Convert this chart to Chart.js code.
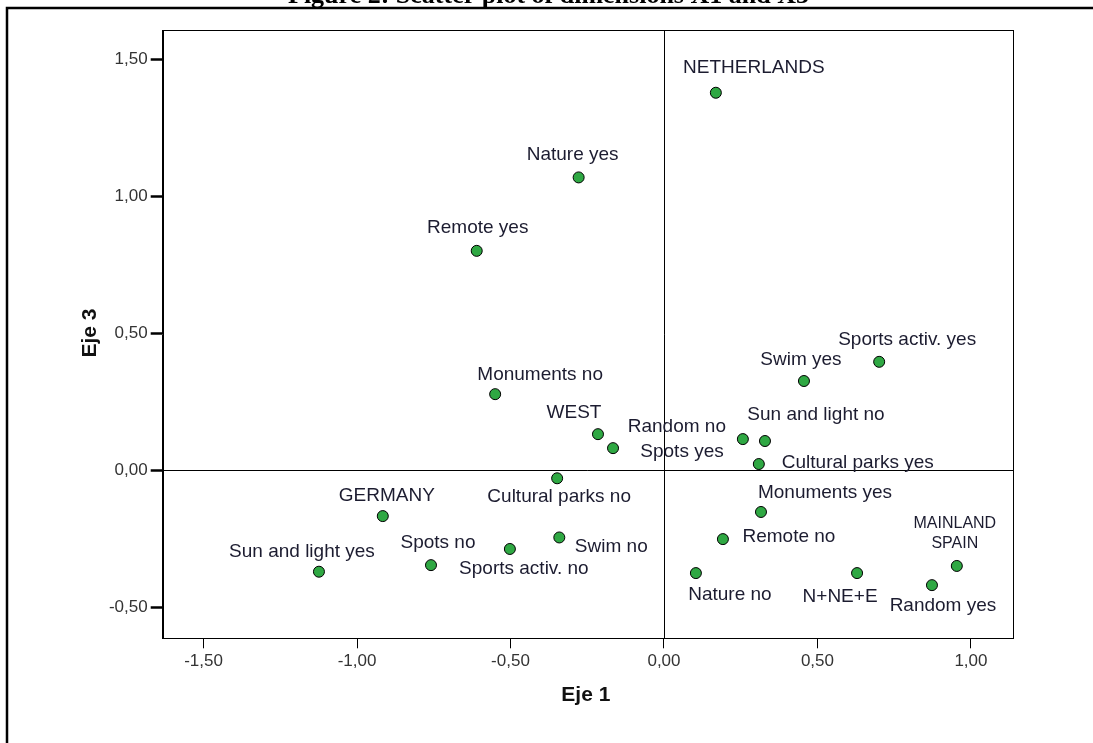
<!DOCTYPE html>
<html>
<head>
<meta charset="utf-8">
<script src="https://cdn.jsdelivr.net/npm/chart.js@4/dist/chart.umd.min.js"></script>
<style>
  html, body { margin: 0; padding: 0; background: #fff; }
  #wrap { position: relative; width: 1093px; height: 743px; overflow: hidden; }
  canvas { display: block; }
</style>
</head>
<body>
<div id="wrap"><canvas id="c"></canvas></div>
<script>
// ---- data ----
const categories = [
  'NETHERLANDS', 'Nature yes', 'Remote yes', 'Monuments no', 'WEST', 'Spots yes',
  'Random no', 'Sun and light no', 'Cultural parks yes', 'Swim yes', 'Sports activ. yes',
  'Cultural parks no', 'GERMANY', 'Monuments yes', 'Sun and light yes', 'Spots no',
  'Sports activ. no', 'Swim no', 'Remote no', 'Nature no', 'N+NE+E',
  ['MAINLAND', 'SPAIN'], 'Random yes'
];
const eje1 = [
  0.169, -0.278, -0.610, -0.550, -0.215, -0.166,
  0.257, 0.329, 0.309, 0.456, 0.701,
  -0.348, -0.916, 0.316, -1.124, -0.759,
  -0.502, -0.341, 0.192, 0.104, 0.629,
  0.954, 0.873
];
const eje3 = [
  1.377, 1.068, 0.800, 0.277, 0.131, 0.080,
  0.113, 0.106, 0.022, 0.325, 0.395,
  -0.030, -0.168, -0.153, -0.371, -0.347,
  -0.288, -0.246, -0.252, -0.376, -0.376,
  -0.350, -0.420
];
const xTickValues = [-1.5, -1.0, -0.5, 0.0, 0.5, 1.0];
const xTickLabels = ['-1,50', '-1,00', '-0,50', '0,00', '0,50', '1,00'];
const yTickValues = [-0.5, 0.0, 0.5, 1.0, 1.5];
const yTickLabels = ['-0,50', '0,00', '0,50', '1,00', '1,50'];
const xTitle = 'Eje 1';
const yTitle = 'Eje 3';
const figureTitle = 'Figure 2: Scatter plot of dimensions X1 and X3';

// ---- label placement (styling, pixel offsets from each point) ----
const labelStyle = [
  {dx: 38, dy: -25}, {dx: -6, dy: -23}, {dx: 1, dy: -23}, {dx: 45, dy: -19},
  {dx: -24, dy: -21}, {dx: 69, dy: 4}, {dx: -66, dy: -12}, {dx: 51, dy: -26},
  {dx: 99, dy: -1}, {dx: -3, dy: -21}, {dx: 28, dy: -22}, {dx: 2, dy: 18},
  {dx: 4, dy: -20}, {dx: 64, dy: -19}, {dx: -17, dy: -20}, {dx: 7, dy: -22},
  {dx: 14, dy: 20}, {dx: 52, dy: 9}, {dx: 66, dy: -2}, {dx: 34, dy: 22},
  {dx: -17, dy: 24}, {dx: -2, dy: -32, size: 16, lh: 20}, {dx: 11, dy: 21}
];

const FONT = "'Liberation Sans', Arial, Helvetica, sans-serif";
const points = eje1.map((x, i) => ({x: x, y: eje3[i]}));

const decorPlugin = {
  id: 'decor',
  beforeDatasetsDraw(chart) {
    const {ctx, chartArea: a, scales: {x, y}} = chart;
    ctx.save();
    ctx.strokeStyle = '#000';
    ctx.lineWidth = 1;
    const x0 = Math.round(x.getPixelForValue(0)) + 0.5;
    const y0 = Math.round(y.getPixelForValue(0)) + 0.5;
    ctx.beginPath();
    ctx.moveTo(x0, a.top); ctx.lineTo(x0, a.bottom);
    ctx.moveTo(a.left, y0); ctx.lineTo(a.right, y0);
    ctx.stroke();
    ctx.strokeRect(Math.round(a.left) + 0.5, Math.round(a.top) + 0.5,
                   Math.round(a.right - a.left), Math.round(a.bottom - a.top));
    ctx.restore();
  },
  afterDraw(chart) {
    const {ctx, chartArea: a} = chart;
    const meta = chart.getDatasetMeta(0);
    ctx.save();
    ctx.fillStyle = '#1c1c30';
    ctx.textAlign = 'center';
    ctx.textBaseline = 'middle';
    meta.data.forEach((el, i) => {
      const st = labelStyle[i];
      const size = st.size || 19;
      ctx.font = size + 'px ' + FONT;
      const lab = categories[i];
      if (Array.isArray(lab)) {
        const lh = st.lh || size * 1.2;
        const start = el.y + st.dy - (lab.length - 1) * lh / 2;
        lab.forEach((t, k) => ctx.fillText(t, el.x + st.dx, start + k * lh));
      } else {
        ctx.fillText(lab, el.x + st.dx, el.y + st.dy);
      }
    });
    ctx.fillStyle = '#111';
    ctx.font = 'bold 21px ' + FONT;
    ctx.fillText(xTitle, (a.left + a.right) / 2 - 2, 695);
    ctx.save();
    ctx.translate(90, 333);
    ctx.rotate(-Math.PI / 2);
    ctx.fillText(yTitle, 0, 0);
    ctx.restore();
    ctx.strokeStyle = '#000';
    ctx.lineWidth = 2.5;
    ctx.beginPath();
    ctx.moveTo(7, 760); ctx.lineTo(7, 8); ctx.lineTo(1100, 8);
    ctx.stroke();
    ctx.fillStyle = '#000';
    ctx.font = "bold 26px 'Liberation Serif', 'Times New Roman', serif";
    ctx.textAlign = 'left';
    ctx.textBaseline = 'alphabetic';
    ctx.fillText(figureTitle, 288, 3);
    ctx.restore();
  }
};

new Chart(document.getElementById('c'), {
  type: 'scatter',
  data: {
    datasets: [{
      data: points,
      backgroundColor: '#2fa843',
      borderColor: '#000',
      borderWidth: 1,
      pointRadius: 5.5,
      pointHoverRadius: 5.5
    }]
  },
  options: {
    responsive: true,
    maintainAspectRatio: false,
    animation: false,
    events: [],
    layout: { padding: { top: 30, right: 80, bottom: 0, left: 0 } },
    plugins: { legend: { display: false }, tooltip: { enabled: false }, title: { display: false } },
    scales: {
      x: {
        type: 'linear',
        min: -1.633, max: 1.137,
        afterBuildTicks: (axis) => { axis.ticks = xTickValues.map(v => ({value: v})); },
        afterFit: (scale) => { scale.height = 104.7; },
        ticks: {
          callback: (v, i) => xTickLabels[i],
          font: { family: FONT, size: 17 },
          color: '#333',
          padding: 3,
          maxRotation: 0,
          autoSkip: false
        },
        grid: { drawOnChartArea: false, drawTicks: true, tickLength: 10, tickWidth: 1, tickColor: '#000' },
        border: { display: true, color: '#000', width: 1 },
        title: { display: false }
      },
      y: {
        type: 'linear',
        min: -0.614, max: 1.606,
        afterBuildTicks: (axis) => { axis.ticks = yTickValues.map(v => ({value: v})); },
        afterFit: (scale) => { scale.width = 162.7; },
        ticks: {
          callback: (v, i) => yTickLabels[i],
          font: { family: FONT, size: 17 },
          color: '#333',
          padding: 3,
          autoSkip: false
        },
        grid: { drawOnChartArea: false, drawTicks: true, tickLength: 12, tickWidth: 2.5, tickColor: '#000' },
        border: { display: true, color: '#000', width: 1 },
        title: { display: false }
      }
    }
  },
  plugins: [decorPlugin]
});
</script>
</body>
</html>
